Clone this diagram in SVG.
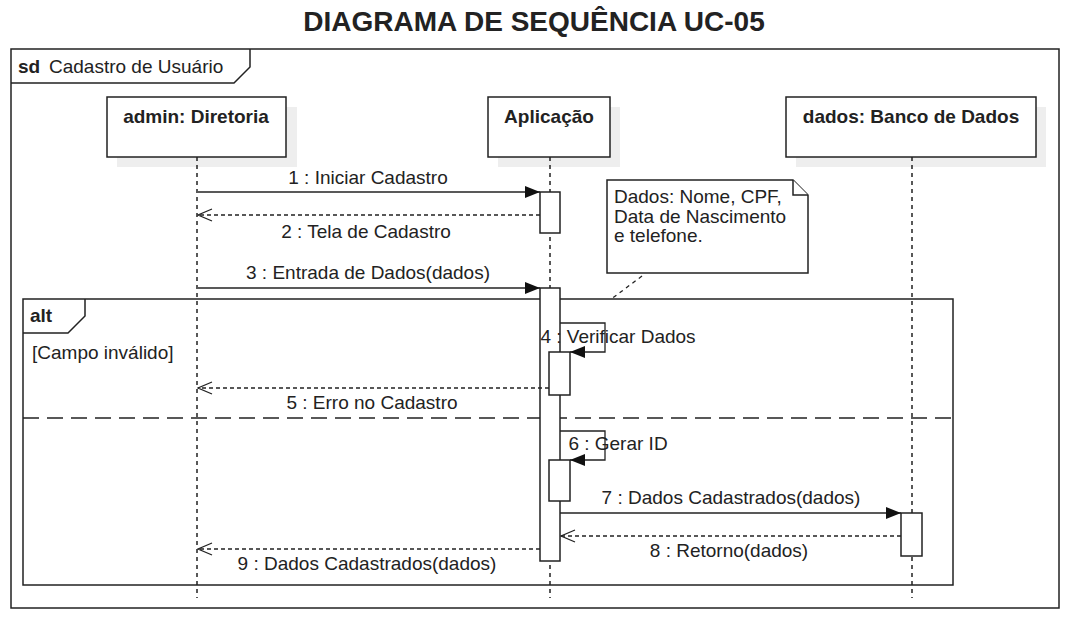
<svg xmlns="http://www.w3.org/2000/svg" width="1069" height="620" viewBox="0 0 1069 620">
<style>
text{font-family:"Liberation Sans",Arial,sans-serif;fill:#222;font-size:19px}
.b{font-weight:bold}
.box{fill:#fff;stroke:#222;stroke-width:1.5}
.shadow{fill:#eeeeee}
.life{stroke:#222;stroke-width:1.5;stroke-dasharray:4 4;fill:none}
.msg{stroke:#222;stroke-width:1.3;fill:none}
.ret{stroke:#222;stroke-width:1.3;fill:none;stroke-dasharray:4 3}
.act{fill:#fff;stroke:#222;stroke-width:1.5}
.frame{fill:none;stroke:#222;stroke-width:1.5}
.m{text-anchor:middle}
</style>
<defs>
<marker id="filled" markerWidth="16" markerHeight="14" refX="15" refY="7" orient="auto" markerUnits="userSpaceOnUse">
<path d="M0,1 L15,7 L0,13 Z" fill="#111"/>
</marker>
<marker id="open" markerWidth="16" markerHeight="14" refX="15" refY="7" orient="auto" markerUnits="userSpaceOnUse">
<path d="M1,1 L15,7 L1,13" fill="none" stroke="#222" stroke-width="1.3"/>
</marker>
</defs>
<rect width="1069" height="620" fill="#fff"/>
<text class="b m" x="534" y="31" style="font-size:28px">DIAGRAMA DE SEQUÊNCIA UC-05</text>

<g id="frame-sd">
<rect class="frame" x="11" y="49" width="1048" height="559"/>
<path class="frame" d="M11,83 L234,83 L250,67 L250,49"/>
<text class="b" x="18" y="73">sd</text>
<text x="49" y="73">Cadastro de Usuário</text>
</g>

<g id="lifeline-admin">
<rect class="shadow" x="117" y="107" width="180" height="60"/>
<rect class="box" x="107" y="97" width="179" height="60"/>
<text class="b m" x="196" y="123">admin: Diretoria</text>
<line class="life" x1="197" y1="157" x2="197" y2="598"/>
</g>
<g id="lifeline-app">
<rect class="shadow" x="498" y="107" width="122" height="60"/>
<rect class="box" x="488" y="97" width="122" height="60"/>
<text class="b m" x="549" y="123">Aplicação</text>
<line class="life" x1="550" y1="157" x2="550" y2="598"/>
</g>
<g id="lifeline-db">
<rect class="shadow" x="796" y="107" width="250" height="60"/>
<rect class="box" x="786" y="97" width="250" height="60"/>
<text class="b m" x="911" y="123">dados: Banco de Dados</text>
<line class="life" x1="912" y1="157" x2="912" y2="598"/>
</g>

<g id="alt-frame">
<rect class="frame" x="23" y="299" width="930" height="286"/>
<path class="frame" d="M23,333 L68,333 L85,316 L85,299"/>
<text class="b" x="30" y="322">alt</text>
<text x="32" y="359">[Campo inválido]</text>
<line x1="23" y1="418" x2="953" y2="418" stroke="#222" stroke-width="1.5" stroke-dasharray="16 8"/>
</g>

<g id="activations">
<rect class="act" x="540" y="192" width="20" height="41"/>
<rect class="act" x="540" y="288" width="20" height="273"/>
<rect class="act" x="549" y="352" width="21" height="43"/>
<rect class="act" x="549" y="460" width="21" height="41"/>
<rect class="act" x="901" y="513" width="21" height="43"/>
</g>

<g id="note">
<path class="box" d="M607,180 L793,180 L808,195 L808,273 L607,273 Z"/>
<path class="box" d="M793,180 L793,195 L808,195" fill="none"/>
<text x="614" y="203">Dados: Nome, CPF,</text>
<text x="614" y="223">Data de Nascimento</text>
<text x="614" y="242">e telefone.</text>
</g>

<g id="connectors">
<line x1="642" y1="276" x2="610" y2="300" stroke="#222" stroke-width="1.3" stroke-dasharray="4 4"/>
<line class="msg" x1="198" y1="192" x2="540" y2="192" marker-end="url(#filled)"/>
<line class="ret" x1="540" y1="215" x2="198" y2="215" marker-end="url(#open)"/>
<line class="msg" x1="198" y1="288" x2="540" y2="288" marker-end="url(#filled)"/>
<path class="msg" d="M560,323 L605,323 L605,352 L570,352" marker-end="url(#filled)"/>
<line class="ret" x1="549" y1="388" x2="198" y2="388" marker-end="url(#open)"/>
<path class="msg" d="M560,431 L605,431 L605,460 L570,460" marker-end="url(#filled)"/>
<line class="msg" x1="560" y1="513" x2="901" y2="513" marker-end="url(#filled)"/>
<line class="ret" x1="901" y1="536" x2="561" y2="536" marker-end="url(#open)"/>
<line class="ret" x1="540" y1="549" x2="198" y2="549" marker-end="url(#open)"/>
</g>

<g id="labels">
<text class="m" x="368" y="184">1 : Iniciar Cadastro</text>
<text class="m" x="366" y="238">2 : Tela de Cadastro</text>
<text class="m" x="368" y="279">3 : Entrada de Dados(dados)</text>
<text class="m" x="618" y="343">4 : Verificar Dados</text>
<text class="m" x="372" y="409">5 : Erro no Cadastro</text>
<text class="m" x="618" y="450">6 : Gerar ID</text>
<text class="m" x="731" y="504">7 : Dados Cadastrados(dados)</text>
<text class="m" x="729" y="557">8 : Retorno(dados)</text>
<text class="m" x="367" y="570">9 : Dados Cadastrados(dados)</text>
</g>
</svg>
